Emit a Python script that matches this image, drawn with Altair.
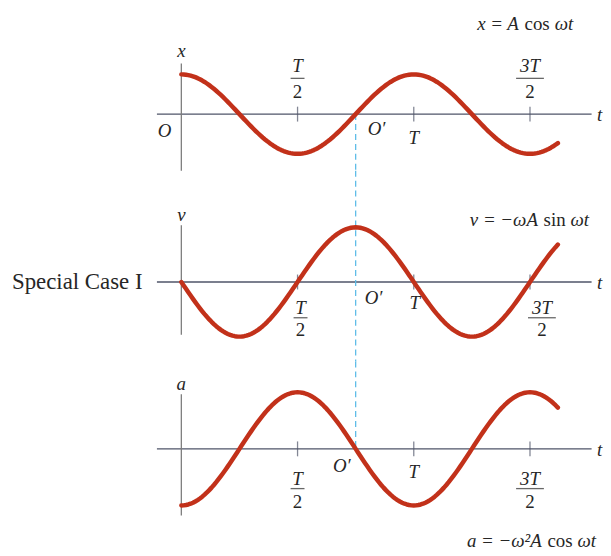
import altair as alt
import numpy as np
import pandas as pd

# ------------------------------------------------------------------ data
# time is measured in units of the period T
t_curve = np.round(np.linspace(0.0, 1.62, 163), 4)
x_curve = np.cos(2 * np.pi * t_curve)          # x =  A cos wt      (A = 1)
v_curve = -np.sin(2 * np.pi * t_curve)         # v = -wA sin wt
a_curve = -np.cos(2 * np.pi * t_curve)         # a = -w^2 A cos wt

tick_times = [0.5, 1.0, 1.5]
frac_times = [0.5, 1.5]
frac_numerators = ["T", "3T"]
frac_denominator = "2"
period_time = 1.0
period_label = "T"
origin_label = "O"
o_prime_time = 0.75
o_prime_label = "O\u2032"
axis_t_span = [-0.105, 1.765]
var_names = ["x", "v", "a"]
time_name = "t"
# equations split into (text, italic) pieces, separated by a space
equations = [
    [("x = A", True), ("cos", False), ("\u03c9t", True)],
    [("v = \u2212\u03c9A", True), ("sin", False), ("\u03c9t", True)],
    [("a = \u2212\u03c9\u00b2A", True), ("cos", False), ("\u03c9t", True)],
]
side_label = "Special Case I"
curves = [x_curve, v_curve, a_curve]

# ------------------------------------------------------------------ layout / style
W = 595
T0_PX = 174.5
PX_PER_T = 234.0
X_DOMAIN = [-T0_PX / PX_PER_T, (W - T0_PX) / PX_PER_T]

CURVE = "#c2311a"
AXIS = "#4f5468"
VAX = "#7d7d7d"
INK = "#262626"
DASH = "#5fbde8"
FONT = "Liberation Serif"
LABEL_SIZE = 19
EQ_SIZE = 19

# approximate advance widths (em) of Liberation Serif, used to butt equation pieces together
EM = {" ": 0.25, "=": 0.675, "\u2212": 0.675, "x": 0.444, "A": 0.611, "v": 0.444,
      "a": 0.5, "\u03c9": 0.667, "t": 0.278, "\u00b2": 0.3, "c": 0.444, "o": 0.5,
      "s": 0.389, "i": 0.278, "n": 0.5}
GAP_EM = 0.3


def text_width(s, size):
    return sum(EM.get(ch, 0.5) for ch in s) * size


panel_styles = [
    dict(height=162, axis_px=105, amp=40, vaxis=(-51, 57), var_dy=-12,
         frac=(-48, -36, -22), frac_dx=(0, 0), period=(0, 24), oprime=(21, 15),
         origin=True, dash=(0, 57), eq=(569, 14), side=False),
    dict(height=192, axis_px=112, amp=55, vaxis=(-57, 53), var_dy=-10,
         frac=(26, 36, 48), frac_dx=(3, 12), period=(1, 21), oprime=(18, 16),
         origin=False, dash=(-112, 80), eq=(585, 50), side=True),
    dict(height=186, axis_px=88, amp=57, vaxis=(-55, 67), var_dy=-10,
         frac=(30, 40, 54), frac_dx=(0, 0), period=(0, 23), oprime=(-14, 17),
         origin=False, dash=(-88, 0), eq=(592, 181), side=False),
]


def build_panel(p, curve_vals, eq_pieces, var_text):
    amp, h, ax = p["amp"], p["height"], p["axis_px"]

    def u(px):
        return -px / amp

    xs = alt.Scale(domain=X_DOMAIN, nice=False, zero=False)
    ys = alt.Scale(domain=[u(h - ax), u(-ax)], nice=False, zero=False)

    def X(f):
        return alt.X(f, type="quantitative", scale=xs, axis=None)

    def Y(f):
        return alt.Y(f, type="quantitative", scale=ys, axis=None)

    def label(t, text, dx=0, dy=0, size=LABEL_SIZE, italic=True, align="center", yval=0.0):
        df = pd.DataFrame({"t": [t], "y": [yval], "s": [text]})
        return alt.Chart(df).mark_text(
            font=FONT, fontSize=size, fontStyle="italic" if italic else "normal",
            color=INK, dx=dx, dy=dy, align=align, baseline="middle"
        ).encode(x=X("t"), y=Y("y"), text="s:N")

    layers = []
    # horizontal (time) axis
    layers.append(
        alt.Chart(pd.DataFrame({"t": [axis_t_span[0]], "t2": [axis_t_span[1]], "y": [0.0]}))
        .mark_rule(color=AXIS, strokeWidth=1.4)
        .encode(x=X("t"), x2="t2", y=Y("y"))
    )
    # vertical axis
    layers.append(
        alt.Chart(pd.DataFrame({"t": [0.0], "y": [u(p["vaxis"][0])], "y2": [u(p["vaxis"][1])]}))
        .mark_rule(color=VAX, strokeWidth=1.3)
        .encode(x=X("t"), y=Y("y"), y2="y2")
    )
    # dashed guide through O'
    layers.append(
        alt.Chart(pd.DataFrame({"t": [o_prime_time], "y": [u(p["dash"][0])], "y2": [u(p["dash"][1])]}))
        .mark_rule(color=DASH, strokeWidth=1.3, strokeDash=[6, 4])
        .encode(x=X("t"), y=Y("y"), y2="y2")
    )
    # tick marks
    layers.append(
        alt.Chart(pd.DataFrame({"t": tick_times, "y": [0.0] * len(tick_times)}))
        .mark_tick(orient="vertical", size=15, thickness=1.3, color=AXIS)
        .encode(x=X("t"), y=Y("y"))
    )
    # curve
    layers.append(
        alt.Chart(pd.DataFrame({"t": t_curve, "val": curve_vals}))
        .mark_line(color=CURVE, strokeWidth=4.5, strokeCap="round", strokeJoin="round")
        .encode(x=X("t"), y=Y("val"))
    )
    # fractions T/2 and 3T/2
    for i, (ft, num) in enumerate(zip(frac_times, frac_numerators)):
        dx = p["frac_dx"][i]
        dn, db, dd = p["frac"]
        layers.append(label(ft, num, dx=dx, dy=dn))
        layers.append(
            alt.Chart(pd.DataFrame({"t": [ft], "y": [0.0]}))
            .mark_tick(orient="horizontal", size=14 if len(num) == 1 else 28,
                       thickness=1.3, color=INK, xOffset=dx, yOffset=db)
            .encode(x=X("t"), y=Y("y"))
        )
        layers.append(label(ft, frac_denominator, dx=dx, dy=dd, italic=False))
    # T, O, O'
    layers.append(label(period_time, period_label, dx=p["period"][0], dy=p["period"][1]))
    layers.append(label(o_prime_time, o_prime_label, dx=p["oprime"][0], dy=p["oprime"][1]))
    if p["origin"]:
        layers.append(label(0.0, origin_label, dx=-17, dy=17))
    # axis names
    layers.append(label(0.0, var_text, dy=p["var_dy"], yval=u(p["vaxis"][0])))
    layers.append(label(axis_t_span[1], time_name, dx=8, dy=1))
    # equation, right-aligned, assembled from italic / upright pieces
    right = p["eq"][0]
    for text, italic in reversed(eq_pieces):
        layers.append(
            alt.Chart(pd.DataFrame({"s": [text]}))
            .mark_text(font=FONT, fontSize=EQ_SIZE, fontStyle="italic" if italic else "normal",
                       color=INK, align="right", baseline="middle")
            .encode(x=alt.value(right), y=alt.value(p["eq"][1]), text="s:N")
        )
        right -= text_width(text, EQ_SIZE) + GAP_EM * EQ_SIZE
    if p["side"]:
        layers.append(
            alt.Chart(pd.DataFrame({"y": [0.0], "s": [side_label]}))
            .mark_text(font=FONT, fontSize=23, color=INK, align="left", baseline="middle")
            .encode(x=alt.value(4), y=Y("y"), text="s:N")
        )
    return alt.layer(*layers).properties(width=W, height=h)


panels = [build_panel(p, c, e, n) for p, c, e, n in zip(panel_styles, curves, equations, var_names)]

chart = (
    alt.vconcat(*panels, spacing=0, bounds="flush")
    .resolve_scale(x="independent", y="independent")
    .properties(padding=0, background="white")
    .configure_view(stroke=None)
)

chart.save("out.html", embed_options={"renderer": "svg", "actions": False})
